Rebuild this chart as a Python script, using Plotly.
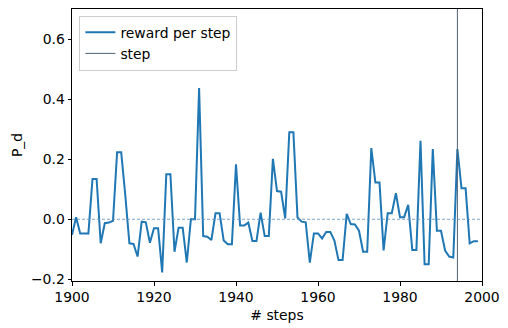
import plotly.graph_objects as go

years = list(range(1900, 2000))
reward = [
    -0.052, 0.007, -0.047, -0.047, -0.047, 0.134, 0.134, -0.080, -0.013, -0.011,
    -0.005, 0.223, 0.223, 0.080, -0.080, -0.082, -0.124, -0.008, -0.010, -0.078,
    -0.030, -0.030, -0.177, 0.150, 0.150, -0.108, -0.028, -0.028, -0.144, 0.000,
    0.000, 0.437, -0.056, -0.058, -0.069, 0.020, 0.020, -0.071, -0.083, -0.083,
    0.183, -0.021, -0.021, -0.011, -0.072, -0.072, 0.022, -0.056, -0.056, 0.201,
    0.094, 0.092, 0.003, 0.290, 0.290, 0.006, -0.008, -0.010, -0.144, -0.047,
    -0.047, -0.064, -0.042, -0.042, -0.071, -0.136, -0.136, 0.018, -0.016, -0.017,
    -0.038, -0.108, -0.108, 0.237, 0.122, 0.122, -0.104, 0.020, 0.020, 0.087,
    0.007, 0.007, 0.048, -0.102, -0.102, 0.261, -0.150, -0.150, 0.234, -0.038,
    -0.038, -0.104, -0.124, -0.127, 0.234, 0.103, 0.103, -0.080, -0.073, -0.073,
]
step_x = 1994
x_range = [1900, 2000]
y_range = [-0.2055, 0.7]

blue = '#1f77b4'
font = dict(family='DejaVu Sans', size=13.9, color='black')

reward_line = go.Scatter(x=years, y=reward, mode='lines', name='reward per step',
                         line=dict(color=blue, width=2))
step_line = go.Scatter(x=[step_x, step_x], y=y_range, mode='lines', name='step',
                       line=dict(color='#4f6375', width=1))

fig = go.Figure(data=[reward_line, step_line])
# zero reference line
fig.add_hline(y=0, line=dict(color='#5c8fbf', width=0.8, dash='3px,2px'))

axis = dict(showgrid=False, zeroline=False, showline=True, mirror=True,
            linecolor='black', linewidth=1, ticks='outside', ticklen=3.5,
            tickwidth=0.8, tickcolor='black', tickfont=font, automargin=False)

fig.update_layout(
    width=508, height=328,
    margin=dict(l=72, r=26, t=9, b=47),
    paper_bgcolor='white', plot_bgcolor='white',
    font=font,
    xaxis=dict(axis, range=x_range, dtick=20, title=dict(text='# steps', font=font, standoff=6)),
    yaxis=dict(axis, range=y_range, tickvals=[-0.2, 0.0, 0.2, 0.4, 0.6], tickformat='.1f',
               title=dict(text='P_d', font=font, standoff=5)),
    legend=dict(x=0.018, y=0.975, xanchor='left', yanchor='top',
                bgcolor='rgba(255,255,255,0.8)', bordercolor='#cccccc', borderwidth=1,
                font=font, tracegroupgap=0, itemwidth=30),
    showlegend=True,
)

fig.write_html('out.html', config={'displayModeBar': False},
               post_script="document.body.style.margin='0';")
